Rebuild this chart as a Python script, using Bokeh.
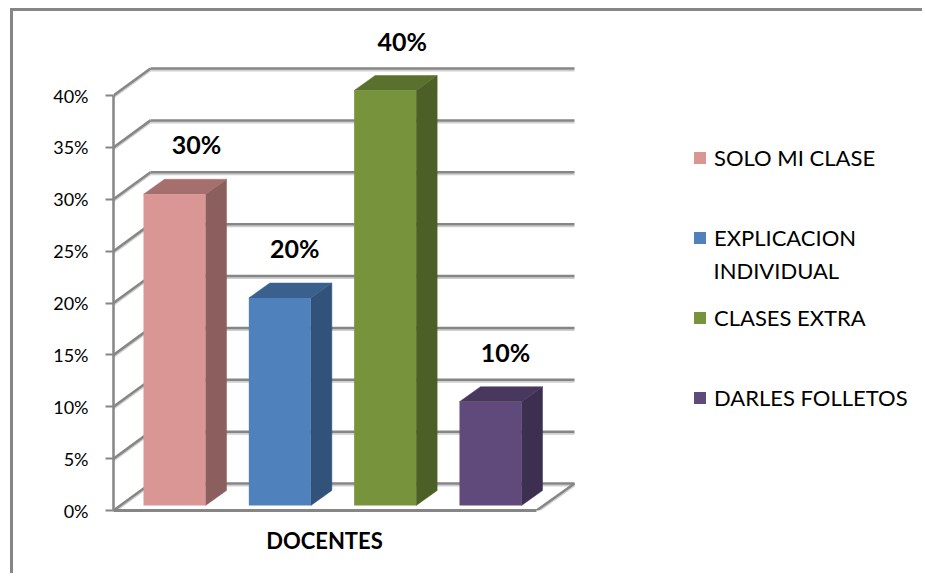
from bokeh.plotting import figure
from bokeh.models import (Range1d, LinearAxis, FixedTicker, NumeralTickFormatter, Legend, LegendItem, Label)
from bokeh.core.properties import value
from bokeh.embed import file_html
from bokeh.resources import INLINE

categories = ["SOLO MI CLASE", "EXPLICACION", "CLASES EXTRA", "DARLES FOLLETOS"]
values = [0.30, 0.20, 0.40, 0.10]
data_labels = ["30%", "20%", "40%", "10%"]
y_ticks = [0.0, 0.05, 0.10, 0.15, 0.20, 0.25, 0.30, 0.35, 0.40]
axis_title = "DOCENTES"
legend_second_line = "INDIVIDUAL"

front_colors = ["#D99694", "#4F81BD", "#77933C", "#604A7B"]
side_colors = ["#8B5F5E", "#315279", "#4C5F26", "#3D2F4F"]
top_colors = ["#A56F6E", "#3A608E", "#5A702D", "#48385D"]
label_dx = [22, 15, 17, 15]

FONT = "Lato"
GRID = "#868686"
SHADOW = "#CFCFCF"

OX, OY = 13, 11            # picture position of the canvas origin
W, H = 925 - OX, 576 - OY
LEFT, BOTTOM_PX, TOP_PX, RIGHT_PX = 113, 510, OY, 925   # frame, picture pixels
PX_STEP, PX_C0 = 105.33, 174.0
PX_PER_UNIT = 1037.5


def X(px):
    return (px - PX_C0) / PX_STEP


def Y(py):
    return (BOTTOM_PX - py) / PX_PER_UNIT


p = figure(width=W, height=H, output_backend="svg", toolbar_location=None,
           x_range=Range1d(X(LEFT), X(RIGHT_PX)), y_range=Range1d(0, Y(TOP_PX)),
           x_axis_location=None, y_axis_location=None,
           min_border_left=LEFT - OX, min_border_right=0, min_border_top=0,
           min_border_bottom=576 - BOTTOM_PX,
           margin=(8, 0, 0, 10),
           styles={"border-left": f"3px solid {GRID}", "border-top": f"3px solid {GRID}", "box-sizing": "border-box"})
p.grid.visible = False
p.outline_line_color = None
p.background_fill_color = "white"
p.border_fill_color = "white"

dx_wall, dy_wall = 37 / PX_STEP, 27 / PX_PER_UNIT
half = 31 / PX_STEP
dx_bar, dy_bar = 21 / PX_STEP, 15 / PX_PER_UNIT
lift = 5 / PX_PER_UNIT
x0 = X(LEFT)
x_front_end = X(536)
x_back_end = X(574)

# back wall grid and side wall diagonals
gx0, gx1, gy0, gy1 = [], [], [], []
for t in y_ticks:
    gx0 += [x0 + dx_wall, x0]
    gx1 += [x_back_end, x0 + dx_wall]
    gy0 += [t + dy_wall, t]
    gy1 += [t + dy_wall, t + dy_wall]
gx0.append(x_front_end); gy0.append(0.0); gx1.append(x_back_end); gy1.append(dy_wall)
p.segment(gx0, [y - 2 / PX_PER_UNIT for y in gy0], gx1, [y - 2 / PX_PER_UNIT for y in gy1],
          line_color=SHADOW, line_width=2)
p.segment(gx0, gy0, gx1, gy1, line_color=GRID, line_width=2.5)

# 3D bars
renderers = []
for i, v in enumerate(values):
    l, r = i - half, i + half
    b, t = lift, v + lift
    p.patch([r, r + dx_bar, r + dx_bar, r], [b, b + dy_bar, t + dy_bar, t], fill_color=side_colors[i], line_color=side_colors[i], line_width=0.5)
    p.patch([l, r, r + dx_bar, l + dx_bar], [t, t, t + dy_bar, t + dy_bar], fill_color=top_colors[i], line_color=top_colors[i], line_width=0.5)
    renderers.append(p.vbar(x=[i], top=[t], bottom=[b], width=2 * half, fill_color=front_colors[i], line_color=None))
    p.text([i], [t], text=[data_labels[i]], x_offset=label_dx[i], y_offset=-50, text_align="center",
           text_baseline="middle", text_font=value(FONT), text_font_style="bold", text_font_size="25px",
           text_color="black")

# axes
yaxis = LinearAxis(ticker=FixedTicker(ticks=y_ticks), formatter=NumeralTickFormatter(format="0%"),
                   bounds=(0, max(y_ticks)), axis_line_color=GRID, axis_line_width=2.5,
                   major_tick_line_color=GRID, major_tick_line_width=2, major_tick_out=8, major_tick_in=0,
                   minor_tick_line_color=None, major_label_standoff=17,
                   major_label_text_font=FONT, major_label_text_font_size="18px", major_label_text_color="black")
p.add_layout(yaxis, "left")
tick_x = X(324)
xaxis = LinearAxis(ticker=FixedTicker(ticks=[tick_x]), major_label_overrides={tick_x: axis_title},
                   bounds=(x0, x_front_end), axis_line_color=GRID, axis_line_width=3,
                   major_tick_line_color=None, minor_tick_line_color=None, major_label_standoff=10,
                   major_label_text_font=FONT, major_label_text_font_style="bold",
                   major_label_text_font_size="22px", major_label_text_color="black")
p.add_layout(xaxis, "below")

# legend
legend = Legend(items=[LegendItem(label=value(c), renderers=[r]) for c, r in zip(categories, renderers)],
                location=(692 - LEFT, BOTTOM_PX - 411), orientation="vertical", padding=0, margin=0,
                spacing=53, glyph_width=15, glyph_height=15, label_height=15, label_width=190, label_standoff=7,
                border_line_color=None, background_fill_alpha=0,
                label_text_font=FONT, label_text_font_size="22px", label_text_color="black",
                label_text_baseline="middle")
p.add_layout(legend, "center")
p.add_layout(Label(x=X(713), y=Y(270), text=legend_second_line, text_font=FONT, text_font_size="22px",
                   text_color="black", text_baseline="middle", text_align="left"))

open("out.html", "w").write(file_html(p, INLINE))
